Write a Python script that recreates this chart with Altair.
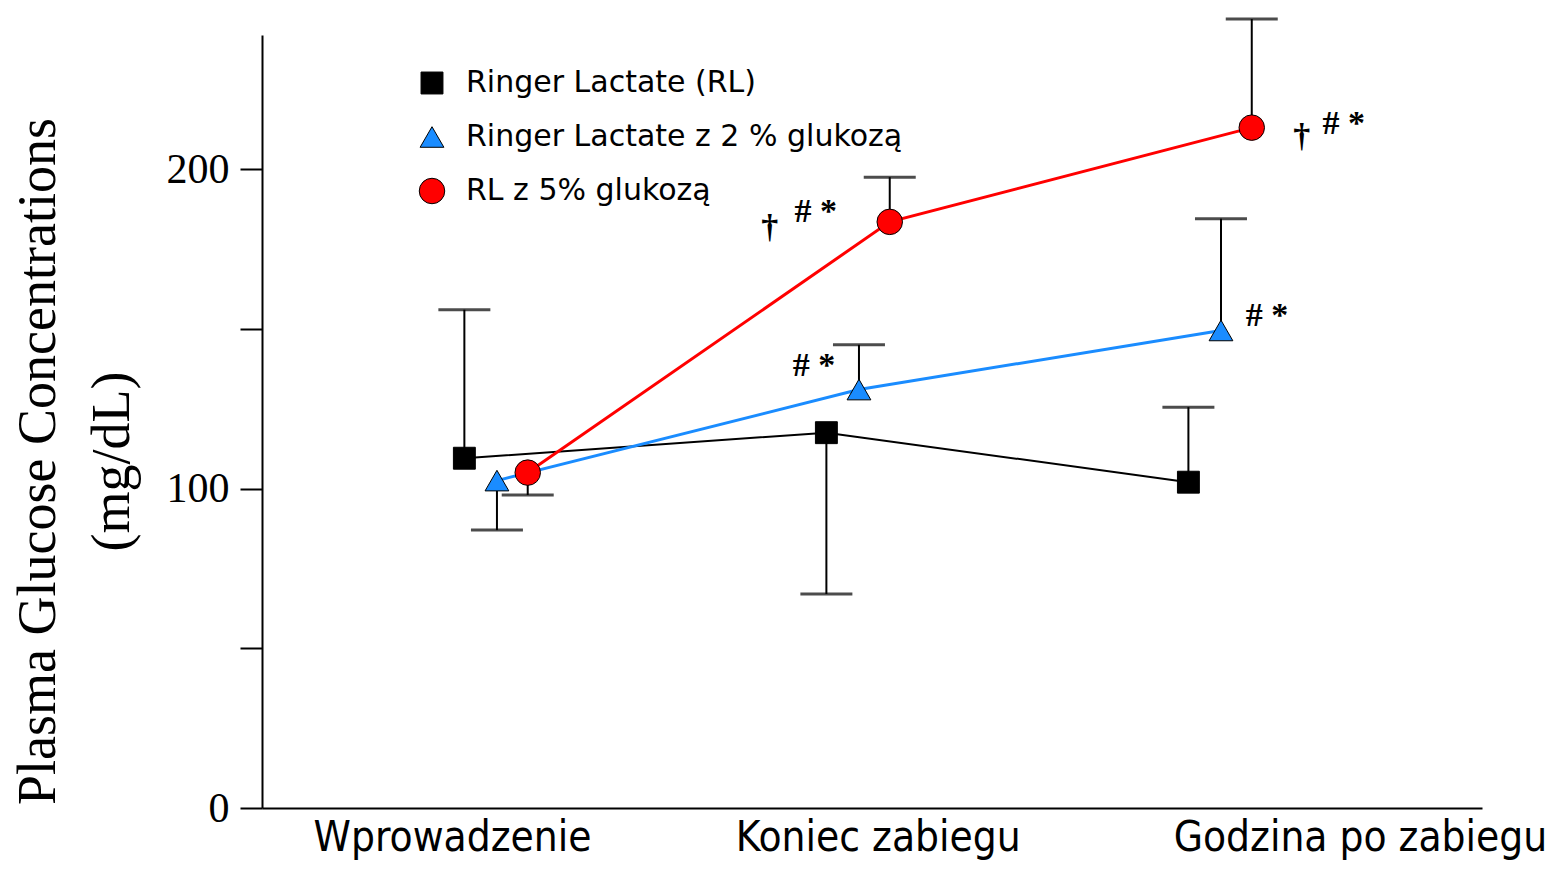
import altair as alt
import pandas as pd

# ---- data ----
categories = ["Wprowadzenie", "Koniec zabiegu", "Godzina po zabiegu"]
series_names = ["Ringer Lactate  (RL)", "Ringer Lactate z 2 % glukozą", "RL z 5% glukozą"]

rl_mean = [109.5, 117.5, 102.0]
rl_err_end = [156.0, 67.0, 125.5]
rl2_mean = [102.5, 131.0, 149.5]
rl2_err_end = [87.0, 145.0, 184.5]
rl5_mean = [105.0, 183.5, 213.0]
rl5_err_end = [98.0, 197.5, 247.0]

annot_series = [series_names[2], series_names[2], series_names[1], series_names[1], series_names[2], series_names[2]]
annot_cat = [1, 1, 1, 2, 2, 2]
annot_text = ["†", "#   *", "#   *", "#   *", "†", "#   *"]

# ---- styling ----
series_colors = ["#000000", "#1a8cff", "#ff0000"]
series_shapes = ["square", "triangle-up", "circle"]
series_sizes = [480, 650, 470]
dodge = [-0.09, 0.0, 0.085]          # horizontal dodge within a category
annot_style = [(-120, 6), (-74, -10), (-45, -24), (46, -14), (50, 9), (92, -4)]

means = [rl_mean, rl2_mean, rl5_mean]
ends = [rl_err_end, rl2_err_end, rl5_err_end]
rows = []
for s, name in enumerate(series_names):
    for c in range(len(categories)):
        rows.append({"series": name, "x": c + dodge[s], "mean": means[s][c], "end": ends[s][c]})
df = pd.DataFrame(rows)

xscale = alt.Scale(domain=[-0.649, 2.721], nice=False, zero=False)
yscale = alt.Scale(domain=[0, 242], nice=False)

label_pos = [-0.124, 1.052, 2.384]
label_expr = (f"datum.value < 0.5 ? '{categories[0]}' : "
              f"datum.value < 1.7 ? '{categories[1]}' : '{categories[2]}'")

xaxis = alt.Axis(values=label_pos, labelExpr=label_expr, ticks=False, grid=False,
                 domainColor="black", domainWidth=2,
                 labelFont="DejaVu Sans Condensed, Liberation Sans Narrow, DejaVu Sans",
                 labelFontSize=42, labelColor="black", labelBaseline="alphabetic",
                 labelPadding=42, labelOverlap=False,
                 labelFlush=False, labelBound=False, labelLimit=0, title=None)
yaxis = alt.Axis(values=[0, 50, 100, 150, 200],
                 labelExpr="datum.value % 100 == 0 ? datum.label : ''",
                 grid=False, domainColor="black", domainWidth=2, tickColor="black",
                 tickWidth=2, tickSize=22, labelFont="Liberation Serif", labelFontSize=42,
                 labelColor="black", labelPadding=11, labelLimit=0,
                 title=["Plasma Glucose Concentrations", "(mg/dL)"],
                 titleFont="Liberation Serif", titleFontSize=54, titleFontWeight="normal",
                 titleColor="black", titleAngle=270, titleLineHeight=74,
                 titleBaseline="middle", titleAlign="center", titleX=-224, titleY=426,
                 titleLimit=0)

base = alt.Chart(df)

layers = []
for s, name in enumerate(series_names):
    layers.append(
        base.transform_filter(alt.datum.series == name)
        .mark_line(color=series_colors[s], strokeWidth=3 if s else 2)
        .encode(x=alt.X("x:Q", scale=xscale, axis=xaxis), y=alt.Y("mean:Q", scale=yscale, axis=yaxis))
    )

rules = base.mark_rule(color="black", strokeWidth=2).encode(
    x=alt.X("x:Q", scale=xscale), y=alt.Y("mean:Q", scale=yscale), y2="end:Q")
caps = base.mark_tick(color="black", thickness=3, size=52, orient="horizontal").encode(
    x=alt.X("x:Q", scale=xscale), y=alt.Y("end:Q", scale=yscale))

points = base.mark_point(filled=True, opacity=1, stroke="black", strokeWidth=1).encode(
    x=alt.X("x:Q", scale=xscale),
    y=alt.Y("mean:Q", scale=yscale),
    color=alt.Color("series:N", scale=alt.Scale(domain=series_names, range=series_colors),
                    legend=alt.Legend(title=None, orient="none", legendX=155, legendY=33,
                                      labelFont="DejaVu Sans", labelFontSize=30, labelColor="black",
                                      labelLimit=0,
                                      symbolSize=420, symbolStrokeColor="black", symbolStrokeWidth=1,
                                      rowPadding=24, labelOffset=19, padding=0)),
    shape=alt.Shape("series:N", scale=alt.Scale(domain=series_names, range=series_shapes)),
    size=alt.Size("series:N", scale=alt.Scale(domain=series_names, range=series_sizes), legend=None),
)

ann_df = pd.DataFrame({"series": annot_series, "cat": annot_cat, "text": annot_text})
ann_df["x"] = [c + dodge[series_names.index(s)] for s, c in zip(annot_series, annot_cat)]
ann_df["y"] = [means[series_names.index(s)][c] for s, c in zip(annot_series, annot_cat)]
ann_layers = []
for i in range(len(ann_df)):
    dx, dy = annot_style[i]
    ann_layers.append(
        alt.Chart(ann_df.iloc[[i]]).mark_text(font="Liberation Serif", fontSize=34, fontWeight="bold",
                                              color="black", dx=dx, dy=dy)
        .encode(x=alt.X("x:Q", scale=xscale), y=alt.Y("y:Q", scale=yscale), text="text:N")
    )

chart = alt.layer(*layers, rules, caps, points, *ann_layers).properties(
    width=1220, height=773,
    background="white",
    autosize=alt.AutoSizeParams(type="none"),
    padding={"left": 254, "top": 27, "right": 68, "bottom": 53},
).configure_view(stroke=None)

chart.save("out.html", embed_options={"renderer": "svg", "actions": False})
